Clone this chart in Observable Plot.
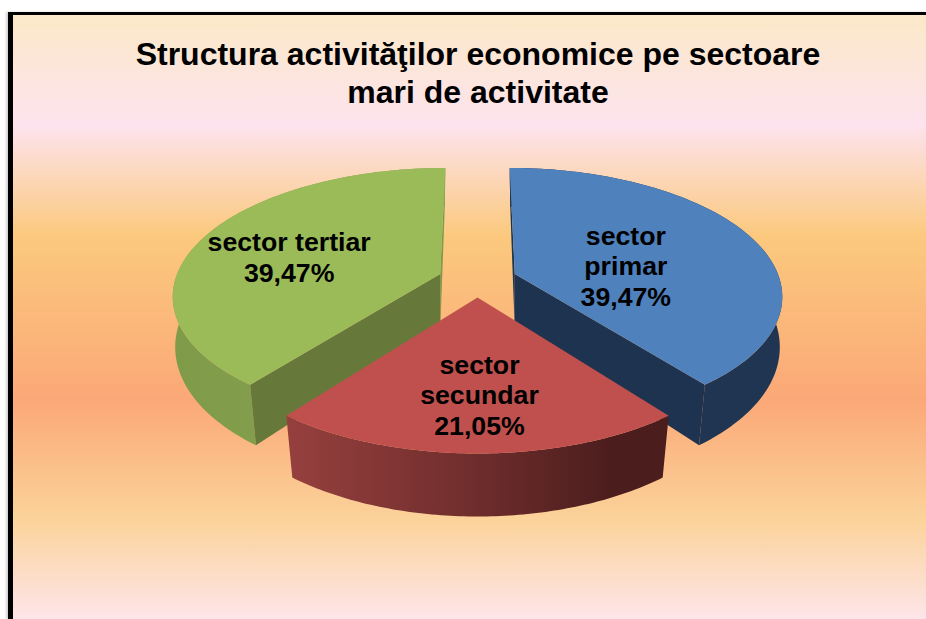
<!DOCTYPE html>
<html>
<head>
<meta charset="utf-8">
<script src="https://cdn.jsdelivr.net/npm/d3@7"></script>
<script src="https://cdn.jsdelivr.net/npm/@observablehq/plot@0.6"></script>
<style>
html,body{margin:0;padding:0;background:#fff;overflow:hidden;width:926px;height:619px}
#frame{position:absolute;left:8px;top:12px;width:918px;height:607px;box-sizing:border-box;border-top:3px solid #000;border-left:5px solid #000;
box-shadow:-2px 0 2px rgba(0,0,0,.18);
background:linear-gradient(180deg,#fbe9c8 0px,#fde3ee 110px,#fbc97e 220px,#fba877 385px,#fbd39a 505px,#fee5ea 604px)}
#title{position:absolute;left:0;width:956px;top:35px;text-align:center;font:bold 32px/38px "Liberation Sans",Arial,sans-serif;color:#000}
#chart{position:absolute;left:0;top:0}
svg{background:transparent!important}
</style>
</head>
<body>
<div id="frame"></div>
<div id="title">Structura activităţilor economice pe sectoare<br>mari de activitate</div>
<div id="chart"></div>
<script>
const categories = ["sector primar", "sector secundar", "sector tertiar"];
const shares = [39.47, 21.05, 39.47];
const shareLabels = ["39,47%", "21,05%", "39,47%"];
const labelLines = ["sector\nprimar", "sector\nsecundar", "sector tertiar"];
const topColors = ["#4f81bd", "#c0504d", "#9bbb59"];
const wallColors = ["#1f3552", "url(#redRim)", "url(#greenRim)"];
const cutColors = ["#1e3350", null, "#66793a"];
const backColors = ["#1e3350", null, "#7f9a4a"];
const labelNudges = [[-21, 13], [2, 18], [-19, 4]];

// projection of the tilted pie (radius = 1)
const W = 926, H = 619;
const cx = 477, cy = 279.1, A = 265, B = 124.7, persp = 0.16, perspLow = 0.135, explode = 0.14, explodeX = 1.07;
const bottomX = 0.995, bottomY = 1.097, drop = 52.6 / B;

const total = d3.sum(shares);
let acc = 0;
const slices = categories.map((name, i) => {
  const a0 = acc / total * 2 * Math.PI;
  acc += shares[i];
  const a1 = acc / total * 2 * Math.PI;
  const mid = (a0 + a1) / 2;
  return {name, i, a0, a1, mid, ox: Math.sin(mid) * explode * explodeX, oy: Math.cos(mid) * explode};
});
function pt(s, angle, r, low) {
  const gx = s.ox + r * Math.sin(angle), gy = s.oy + r * Math.cos(angle);
  const k = 1 / (1 + (low ? perspLow : persp) * gy);
  const u = gx * k, v = -gy * k;
  return low ? {u: u * bottomX, v: v * bottomY + drop} : {u, v};
}
function arc(s, low) {
  const n = 90;
  return d3.range(n + 1).map(j => pt(s, s.a0 + (s.a1 - s.a0) * j / n, 1, low));
}
const shape = (pts, fill) => Plot.line(pts, {x: "u", y: "v", fill, stroke: "none", curve: "linear"});

const defs = () => {
  const d = d3.create("svg:defs");
  const grad = (id, stops) => {
    const g = d.append("linearGradient").attr("id", id).attr("x1", 0).attr("x2", 1).attr("y1", 0).attr("y2", 0);
    stops.forEach(([o, c]) => g.append("stop").attr("offset", o).attr("stop-color", c));
  };
  grad("redRim", [[0, "#96403e"], [0.5, "#6e2d2c"], [0.85, "#4c1d1d"], [1, "#4c1d1d"]]);
  grad("greenRim", [[0, "#7f9b4a"], [1, "#8aa653"]]);
  return d.node();
};

const marks = [defs];
for (const s of [slices[2], slices[0], slices[1]]) {
  const c = pt(s, 0, 0, false), cLow = pt(s, 0, 0, true);
  // back radial wall, rim wall, front radial wall, top face
  if (backColors[s.i]) {
    const backAngle = s.i === 2 ? s.a1 : s.a0;
    marks.push(shape([c, pt(s, backAngle, 1, false), pt(s, backAngle, 1, true), cLow], backColors[s.i]));
  }
  marks.push(shape([...arc(s, false), ...arc(s, true).reverse()], wallColors[s.i]));
  if (cutColors[s.i]) {
    const frontAngle = s.i === 2 ? s.a0 : s.a1;
    marks.push(shape([c, pt(s, frontAngle, 1, false), pt(s, frontAngle, 1, true), cLow], cutColors[s.i]));
  }
  marks.push(shape([c, ...arc(s, false), c], topColors[s.i]));
}
for (const s of slices) {
  const p = pt(s, s.mid, 0.55, false);
  marks.push(Plot.text([{...p, t: labelLines[s.i] + "\n" + shareLabels[s.i]}], {
    x: "u", y: "v", text: "t", fill: "#000", fontSize: 26.7, fontWeight: "bold",
    fontFamily: "Liberation Sans, Arial, sans-serif", lineHeight: 1.145, lineAnchor: "middle", textAnchor: "middle",
    dx: labelNudges[s.i][0], dy: labelNudges[s.i][1]
  }));
}

const chart = Plot.plot({
  width: W, height: H, margin: 0,
  style: {background: "transparent", overflow: "visible"},
  x: {axis: null, domain: [(0 - cx) / A, (W - cx) / A], range: [0, W]},
  y: {axis: null, domain: [(0 - cy) / B, (H - cy) / B], range: [0, H]},
  marks
});
document.getElementById("chart").append(chart);
</script>
</body>
</html>
